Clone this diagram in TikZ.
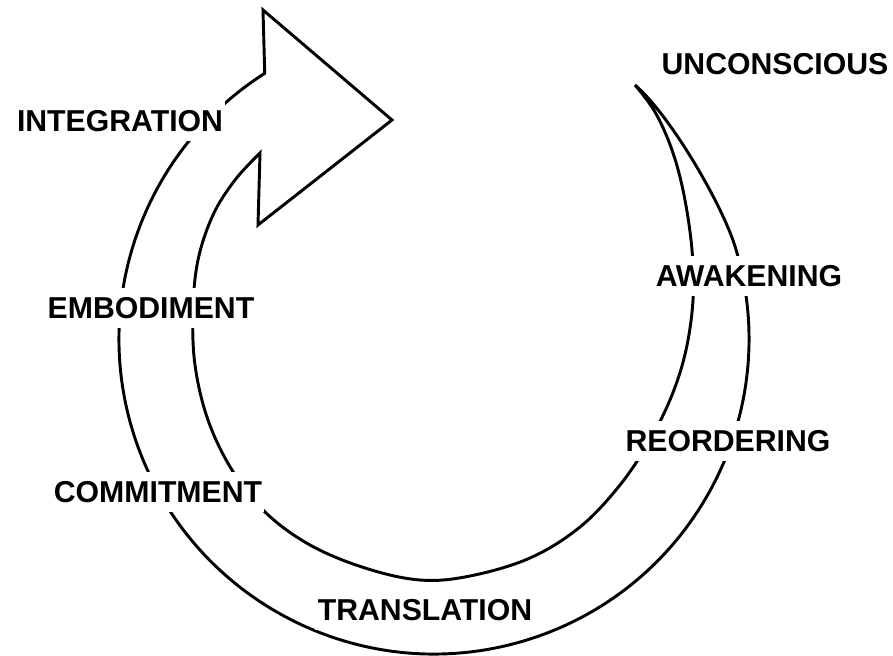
\documentclass[tikz,border=0pt]{standalone}
\usepackage{fontspec}
\setmainfont{Liberation Sans}
\tikzset{stage/.style={fill=white, inner xsep=2pt, inner ysep=8pt,
    font=\fontsize{25.8}{30}\selectfont\bfseries}}
\begin{document}
\begin{tikzpicture}[x=0.03cm, y=-0.03cm, line width=2.5pt, line join=miter]
    \useasboundingbox (0,0) rectangle (893,656);
    \coordinate (tip) at (635,85);
    \draw (tip) .. controls (670,115) and (722,204) .. (735.2,246.9)
      arc[start angle=-17, end angle=237.5, radius=315]
      -- (263,10) -- (392,120) -- (258,225) -- (260,153)
      -- plot[smooth, tension=0.6] coordinates {(260,153) (235,180) (213,215)
        (198,260) (193,310) (195,365) (208,420) (232,470) (265,512)
        (310,545) (365,568) (420,580) (470,576) (530,558) (580,527)
        (620,485) (650,440) (672,395) (686,350) (693,300) (692,250)
        (684,195) (672,150) (655,112) (635,85)} -- cycle;
    \node[stage] (integ) at (120,121) {INTEGRATION};
    \node[stage] (uncon) at (775,64) {UNCONSCIOUS};
    \node[stage] (awak) at (749,276) {AWAKENING};
    \node[stage] (embod) at (151,308) {EMBODIMENT};
    \node[stage] (reord) at (728,441) {REORDERING};
    \node[stage] (commit) at (158,492) {COMMITMENT};
    \node[stage] (transl) at (425,610) {TRANSLATION};
\end{tikzpicture}
\end{document}
